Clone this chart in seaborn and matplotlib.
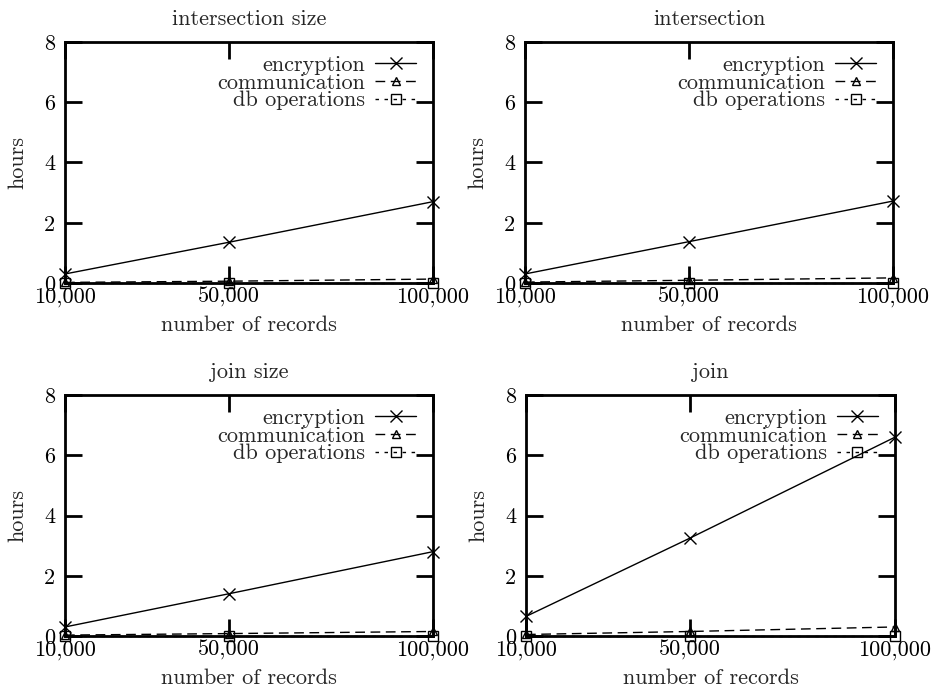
import matplotlib
matplotlib.use("Agg")
import matplotlib.pyplot as plt
import seaborn as sns
import pandas as pd

records = [10000, 50000, 100000]
xtick_labels = ["10,000", "50,000", "100,000"]
yticks = [0, 2, 4, 6, 8]
series_names = ["encryption", "communication", "db operations"]

titles = ["intersection size", "intersection", "join size", "join"]
encryption = [
    [0.30, 1.35, 2.70],
    [0.30, 1.37, 2.72],
    [0.30, 1.40, 2.80],
    [0.65, 3.25, 6.60],
]
communication = [
    [0.02, 0.06, 0.13],
    [0.03, 0.09, 0.17],
    [0.03, 0.08, 0.15],
    [0.05, 0.15, 0.30],
]
db_operations = [
    [0.01, 0.01, 0.01],
    [0.01, 0.01, 0.01],
    [0.01, 0.01, 0.01],
    [0.01, 0.01, 0.01],
]

sns.set_theme(style="ticks")
plt.rcParams["font.family"] = ["cmr10", "DejaVu Serif"]
plt.rcParams["axes.formatter.use_mathtext"] = True
plt.rcParams["axes.unicode_minus"] = False

W, H = 933, 688
fig = plt.figure(figsize=(W / 100, H / 100), dpi=100)

boxes = [
    (65, 42, 433, 283),
    (525, 42, 893, 283),
    (65, 395, 433, 636),
    (526, 395, 895, 636),
]

markers = {"encryption": "x", "communication": "^", "db operations": "s"}
linestyles = {"encryption": "-", "communication": (0, (7, 4)), "db operations": (0, (2.5, 4))}
msizes = {"encryption": 8, "communication": 6, "db operations": 7}

FS = 16
for i, (l, t, r, b) in enumerate(boxes):
    ax = fig.add_axes([l / W, 1 - b / H, (r - l) / W, (b - t) / H])
    data = {"encryption": encryption[i], "communication": communication[i],
            "db operations": db_operations[i]}
    for n in series_names:
        df = pd.DataFrame({"records": records, "hours": data[n]})
        sns.lineplot(data=df, x="records", y="hours", ax=ax, color="black",
                     linewidth=1.0, linestyle=linestyles[n], marker=markers[n],
                     markersize=msizes[n], markerfacecolor="none",
                     markeredgecolor="black", markeredgewidth=1.0,
                     label=n, clip_on=False)
    ax.set_xlim(10000, 100000)
    ax.set_ylim(0, 8)
    ax.set_xticks(records)
    ax.set_xticklabels(xtick_labels)
    ax.set_yticks(yticks)
    ax.set_yticklabels([str(v) for v in yticks])
    ax.tick_params(direction="in", length=12, width=2.0, top=True, right=True,
                   labelsize=FS, colors="black")
    ax.tick_params(axis="y", pad=7)
    ax.tick_params(axis="x", pad=3)
    for sp in ax.spines.values():
        sp.set_linewidth(2.0)
        sp.set_color("black")
    ax.set_xlabel("number of records", fontsize=FS, labelpad=6)
    ax.set_ylabel("hours", fontsize=FS, labelpad=12)
    ax.set_title(titles[i], fontsize=FS, pad=12)
    ax.legend(loc="upper right", frameon=False, markerfirst=False,
              fontsize=FS, handlelength=1.85, labelspacing=-0.08, handletextpad=0.45,
              borderaxespad=0, borderpad=0, bbox_to_anchor=(0.954, 0.945))

fig.savefig("out.png", dpi=100)
